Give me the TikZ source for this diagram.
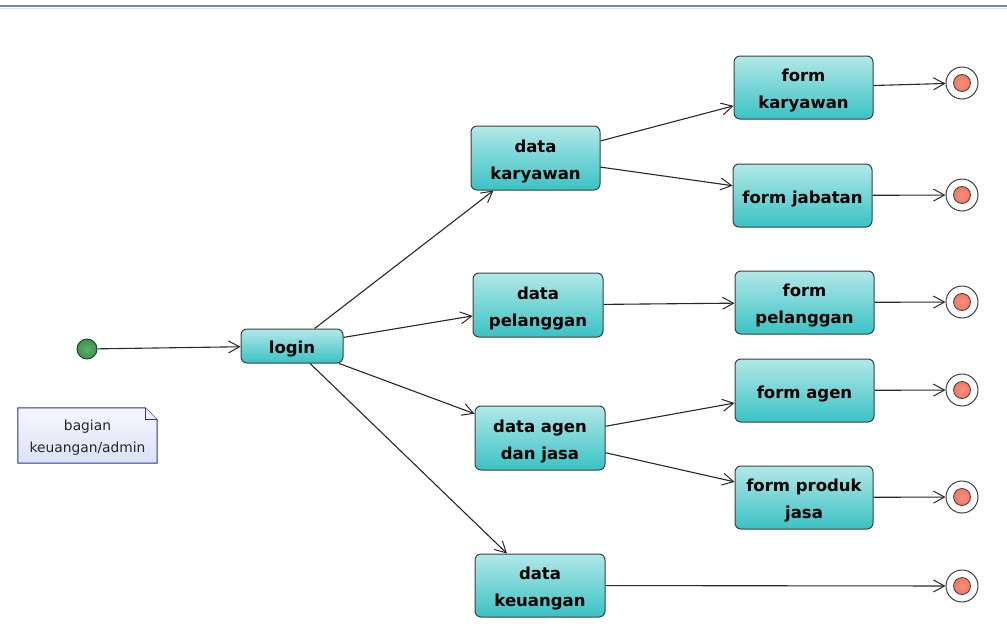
\documentclass[tikz,border=0pt]{standalone}
\usepackage{fontspec}
\setmainfont{DejaVu Sans}
\usetikzlibrary{arrows.meta}

\definecolor{boxtop}{RGB}{178,232,232}
\definecolor{boxbot}{RGB}{58,194,196}
\definecolor{boxline}{RGB}{60,64,64}
\definecolor{flow}{RGB}{40,40,40}
\definecolor{startfill}{RGB}{58,150,72}
\definecolor{startline}{RGB}{24,70,30}
\definecolor{endfill}{RGB}{240,96,70}
\definecolor{notetop}{RGB}{244,247,253}
\definecolor{notebot}{RGB}{218,226,246}
\definecolor{noteline}{RGB}{40,50,160}
\definecolor{rule}{RGB}{110,140,175}

\tikzset{
  statebox/.style={draw=boxline, line width=1pt, rounded corners=6pt,
    top color=boxtop, bottom color=boxbot, inner sep=0pt},
  boxtext/.style={align=center, inner sep=0pt, yshift=-3.5pt,
    font=\bfseries\fontsize{16.5}{27}\selectfont, text=black},
  initial/.style={circle, draw=startline, line width=0.9pt, inner sep=0pt,
    minimum size=20pt, inner color=startfill!80!white, outer color=startfill},
  final/.style={circle, draw=boxline, line width=1pt, fill=white, inner sep=0pt,
    minimum size=32pt,
    path picture={\filldraw[draw=boxline, line width=0.8pt, inner color=endfill!70!white, outer color=endfill]
      (path picture bounding box.center) circle (8.5pt);}},
  flowline/.style={draw=flow, line width=1.1pt,
    -{Straight Barb[length=11pt, width=12pt, line width=1pt]}},
  notebox/.style={inner sep=0pt, minimum width=139pt, minimum height=55pt},
  notetext/.style={align=center, inner sep=0pt, yshift=-2.5pt,
    font=\fontsize{13.8}{22}\selectfont, text=black!85}
}

\begin{document}
\begin{tikzpicture}[x=1pt, y=-1pt]
  \useasboundingbox (0,0) rectangle (1007,640);
  \fill[white] (0,0) rectangle (1007,640);
  % header rule
  \draw[rule, line width=1.6pt] (0,6) -- (1007,6);
  \draw[rule!25, line width=1pt] (0,8) -- (1007,8);

  % start and login
  \node[initial] (start) at (87,349) {};
  \node[statebox, minimum width=102pt, minimum height=34pt] (login) at (292,346) {};
  \node[boxtext, yshift=0.5pt] (loginT) at (login) {login};

  % second level
  \node[statebox, minimum width=129pt, minimum height=64pt] (dk) at (535.5,158) {};
  \node[boxtext] (dkT) at (dk) {data\\karyawan};
  \node[statebox, minimum width=130pt, minimum height=64pt] (dp) at (538,305) {};
  \node[boxtext] (dpT) at (dp) {data\\pelanggan};
  \node[statebox, minimum width=130pt, minimum height=64pt] (da) at (540,438) {};
  \node[boxtext] (daT) at (da) {data agen\\dan jasa};
  \node[statebox, minimum width=130pt, minimum height=63pt] (du) at (540,585.5) {};
  \node[boxtext] (duT) at (du) {data\\keuangan};

  % forms
  \node[statebox, minimum width=139pt, minimum height=63pt] (fk) at (803.5,87.5) {};
  \node[boxtext] (fkT) at (fk) {form\\karyawan};
  \node[statebox, minimum width=139pt, minimum height=63pt] (fj) at (802.5,195.5) {};
  \node[boxtext] (fjT) at (fj) {form jabatan};
  \node[statebox, minimum width=139pt, minimum height=63pt] (fp) at (804.5,302.5) {};
  \node[boxtext] (fpT) at (fp) {form\\pelanggan};
  \node[statebox, minimum width=139pt, minimum height=63pt] (fa) at (804.5,390.5) {};
  \node[boxtext] (faT) at (fa) {form agen};
  \node[statebox, minimum width=138pt, minimum height=63pt] (fs) at (804,497.5) {};
  \node[boxtext] (fsT) at (fs) {form produk\\jasa};

  % final states
  \node[final] (e1) at (962,83) {};
  \node[final] (e2) at (962,195) {};
  \node[final] (e3) at (962,302) {};
  \node[final] (e4) at (962,390) {};
  \node[final] (e5) at (962,497) {};
  \node[final] (e6) at (962,586) {};

  % note with folded corner
  \node[notebox] (note) at (87.5,435.5) {};
  \draw[noteline, line width=1pt, top color=notetop, bottom color=notebot]
    (note.north west) -- ([xshift=-12pt]note.north east) -- ([yshift=-12pt]note.north east)
    -- (note.south east) -- (note.south west) -- cycle;
  \draw[noteline, line width=0.8pt, fill=notebot!80!noteline!20]
    ([xshift=-12pt]note.north east) -- ([xshift=-12pt,yshift=-12pt]note.north east)
    -- ([yshift=-12pt]note.north east);
  \node[notetext] (noteT) at (note) {bagian\\keuangan/admin};

  % transitions
  \draw[flowline] (start) -- (login);
  \draw[flowline] (login) -- (dk);
  \draw[flowline] (login) -- (dp);
  \draw[flowline] (login) -- (da);
  \draw[flowline] (login) -- (du);
  \draw[flowline] (dk) -- (fk);
  \draw[flowline] (dk) -- (fj);
  \draw[flowline] (dp) -- (fp);
  \draw[flowline] (da) -- (fa);
  \draw[flowline] (da) -- (fs);
  \draw[flowline] (du) -- (e6);
  \draw[flowline] (fk) -- (e1);
  \draw[flowline] (fj) -- (e2);
  \draw[flowline] (fp) -- (e3);
  \draw[flowline] (fa) -- (e4);
  \draw[flowline] (fs) -- (e5);
\end{tikzpicture}
\end{document}
